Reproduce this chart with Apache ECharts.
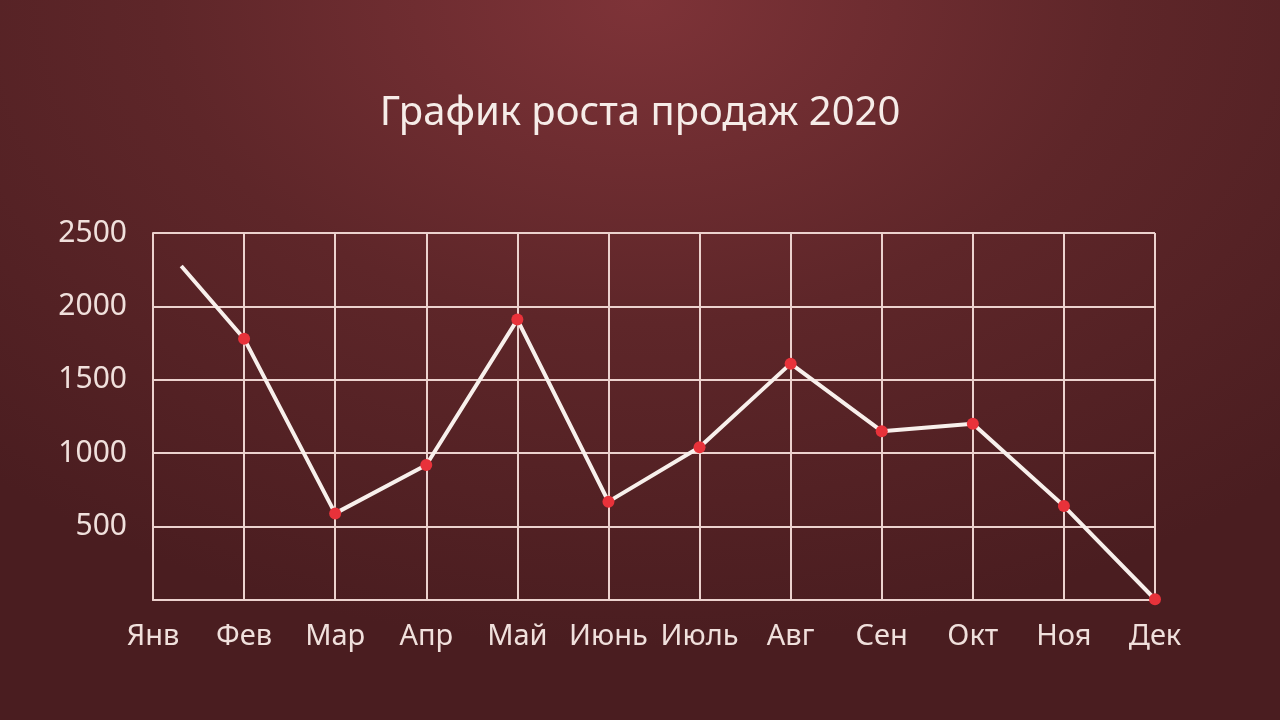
<!DOCTYPE html>
<html>
<head>
<meta charset="utf-8">
<script src="https://cdn.jsdelivr.net/npm/echarts@6/dist/echarts.min.js"></script>
<style>
  html, body { margin: 0; padding: 0; }
  #chart {
    width: 1280px; height: 720px;
    background: radial-gradient(ellipse 75% 90% at 50% 0%, #7e3338 0%, #5e2629 50%, #4a1d20 100%);
  }
</style>
</head>
<body>
<div id="chart"></div>
<script>
var months = ['Янв', 'Фев', 'Мар', 'Апр', 'Май', 'Июнь', 'Июль', 'Авг', 'Сен', 'Окт', 'Ноя', 'Дек'];
// позиция по оси X (номер месяца) и объём продаж
var xPos = [0.31, 1, 2, 3, 4, 5, 6, 7, 8, 9, 10, 11];
var sales = [2275, 1780, 590, 920, 1910, 670, 1040, 1610, 1150, 1200, 640, 5];
var yTicks = [0, 500, 1000, 1500, 2000, 2500];

var chart = echarts.init(document.getElementById('chart'));

var points = xPos.map(function (x, i) { return [x, sales[i]]; });

var option = {
    backgroundColor: 'transparent',
    title: {
        text: 'График роста продаж 2020',
        left: 'center',
        top: 89,
        textStyle: {
            color: '#f6ece8',
            fontFamily: 'Noto Sans',
            fontWeight: 'normal',
            fontSize: 40
        }
    },
    grid: {
        left: 153,
        right: 125,
        top: 233,
        bottom: 120
    },
    xAxis: {
        type: 'value',
        min: 0,
        max: 11,
        interval: 1,
        axisLine: { show: true, lineStyle: { color: '#ecd2ce', width: 2 } },
        axisTick: { show: false },
        splitLine: { show: true, lineStyle: { color: '#ecd2ce', width: 2 } },
        axisLabel: {
            color: '#f0e0dc',
            fontFamily: 'Noto Sans',
            fontSize: 29,
            margin: 22,
            formatter: function (v) { return months[v] || ''; }
        }
    },
    yAxis: {
        type: 'value',
        min: yTicks[0],
        max: yTicks[yTicks.length - 1],
        interval: 500,
        axisLine: { show: true, lineStyle: { color: '#ecd2ce', width: 2 } },
        axisTick: { show: false },
        splitLine: { show: true, lineStyle: { color: '#ecd2ce', width: 2 } },
        axisLabel: {
            color: '#f0e0dc',
            fontFamily: 'Noto Sans',
            fontSize: 30,
            margin: 26,
            formatter: function (v) { return v === 0 ? '' : String(v); }
        }
    },
    series: [
        {
            type: 'line',
            data: points.map(function (p, i) {
                return i === 0 ? { value: p, symbolSize: 0 } : p;
            }),
            symbol: 'circle',
            symbolSize: 12,
            lineStyle: { color: '#f8f0ec', width: 4 },
            itemStyle: { color: '#e8323a', borderWidth: 0 },
            animation: false
        }
    ]
};

chart.setOption(option);
</script>
</body>
</html>
